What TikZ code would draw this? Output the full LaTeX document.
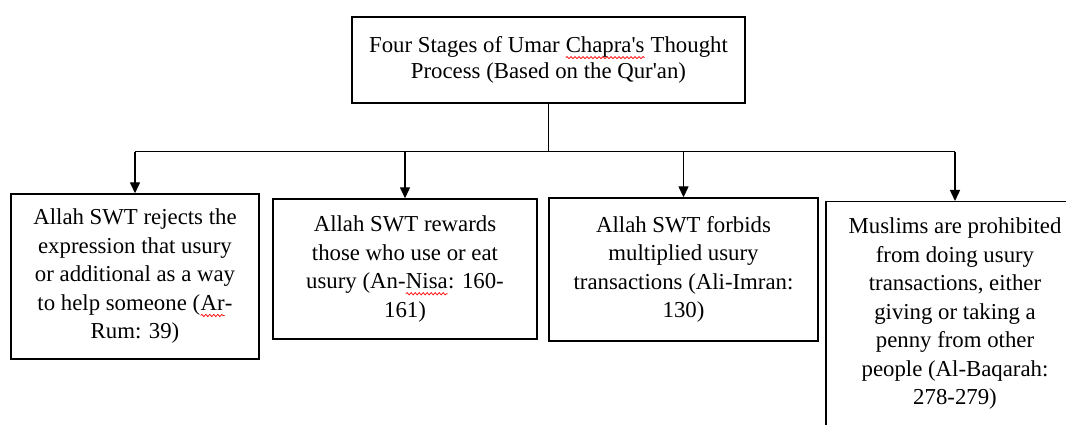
\documentclass[tikz,border=0pt]{standalone}
\usepackage{fontspec}
\setmainfont{Liberation Serif}[Ligatures=TeXOff]
\usepackage{tikz}
\usetikzlibrary{
  positioning,
  arrows.meta,
  calc,
  decorations.pathmorphing
}
\tikzset{
  >={Triangle[length=11pt,width=10pt]},
  stagebox/.style={
    draw,
    line width=1.4pt,
    align=center,
    inner sep=0pt,
    font=\fontsize{22.8}{28.5}\selectfont
  },
  headbox/.style={
    stagebox,
    font=\fontsize{22.8}{26}\selectfont
  },
  wordbox/.style={
    draw=none, inner sep=0pt, outer sep=0pt,
    minimum width=0pt, minimum height=0pt,
    text height=, text depth=, align=none, anchor=base
  },
  link/.style={line width=1.4pt}
}
\newcommand\spellwave[1]{%
  \tikz[baseline=(w.base)]{%
    \node[wordbox] (w) at (0,0) {#1};
    \draw[red, line width=0.7pt, decorate,
      decoration={snake, amplitude=1.1pt, segment length=4pt}]
      ([yshift=-5pt]w.base west) -- ([yshift=-5pt]w.base east);
  }%
}

\begin{document}
\begin{tikzpicture}[x=1pt,y=-1pt]
\useasboundingbox (0,0) rectangle (1066,425);
\clip (0,0) rectangle (1066,425);
\node[headbox, minimum width=393pt, minimum height=86pt] (T) at (548.5,60)
  {Four Stages of Umar \spellwave{Chapra's} Thought\\Process (Based on the Qur'an)};
\node[stagebox, minimum width=248pt, minimum height=165pt] (A) at (135,276.5)
  {Allah SWT rejects the\\expression that usury\\or additional as a way\\to help someone (\spellwave{Ar}-\\Rum: 39)};
\node[stagebox, minimum width=264pt, minimum height=140pt] (B) at (405,269)
  {Allah SWT rewards\\those who use or eat\\usury (An-\spellwave{Nisa}: 160-\\161)};
\node[stagebox, minimum width=269pt, minimum height=143pt] (C) at (683.5,269.5)
  {Allah SWT forbids\\multiplied usury\\transactions (Ali-Imran:\\130)};
\node[stagebox, anchor=north, minimum width=258pt, inner ysep=16pt, text depth=45pt] (D) at (955,201)
  {Muslims are prohibited\\from doing usury\\transactions, either\\giving or taking a\\penny from other\\people (Al-Baqarah:\\278-279)};
\coordinate (J) at ([yshift=-48pt]T.south);
\draw[link] (T.south) -- (J);
\draw[link] (A.north |- J) -- (D.north |- J);
\foreach \k in {A,B,C,D} {
  \draw[link,->] (\k.north |- J) -- (\k.north);
}
\end{tikzpicture}
\end{document}
